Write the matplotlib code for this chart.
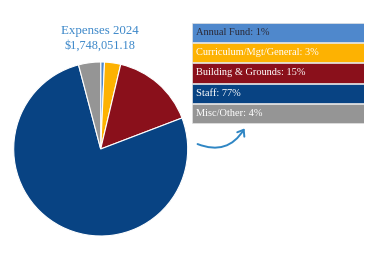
import matplotlib.pyplot as plt
from matplotlib.patches import FancyArrowPatch

# data
categories = ["Annual Fund", "Curriculum/Mgt/General", "Building & Grounds", "Staff", "Misc/Other"]
values = [0.7, 3.0, 15.5, 76.7, 4.1]
pct_labels = ["1%", "3%", "15%", "77%", "4%"]
colors = ["#4f88cc", "#fdb202", "#8a101b", "#084383", "#959595"]
text_colors = ["#2b2b3a", "white", "white", "white", "white"]
title = "Expenses 2024"
total = "$1,748,051.18"

W, H = 378, 260
fig = plt.figure(figsize=(W / 100, H / 100), dpi=100)
serif = ["Liberation Serif", "DejaVu Serif"]

def fx(px):
	return px / W

def fy(py):
	return 1 - py / H

# pie, centre ~ (101, 149) px, radius ~87 px
cx, cy, r = 100.7, 149.0, 87.0
ax = fig.add_axes([fx(cx - r), fy(cy + r), 2 * r / W, 2 * r / H])
ax.pie(values, colors=colors, startangle=90, counterclock=False,
	wedgeprops=dict(edgecolor="white", linewidth=0.8))
ax.set_xlim(-1, 1)
ax.set_ylim(-1, 1)
ax.set_aspect("auto")

fig.text(fx(100), fy(31), title, ha="center", va="center", fontsize=9.3,
	color="#3b87c9", family=serif)
fig.text(fx(100), fy(46), total, ha="center", va="center", fontsize=8.8,
	color="#3b87c9", family=serif)

# legend boxes
lx0, lx1, ly0, ly1 = 192, 364, 22.5, 123.5
lax = fig.add_axes([fx(lx0), fy(ly1), (lx1 - lx0) / W, (ly1 - ly0) / H])
rows = list(range(len(categories)))
lax.barh(rows, [1] * len(rows), left=0, height=0.95, color=colors,
	edgecolor="#e2e2e2", linewidth=0.5)
for i, (cat, p) in enumerate(zip(categories, pct_labels)):
	lax.text(0.025, i, "{}: {}".format(cat, p), ha="left", va="center",
		fontsize=7.5, color=text_colors[i], family=serif)
lax.set_xlim(0, 1)
lax.set_ylim(len(rows) - 0.5, -0.5)
lax.axis("off")

# curved arrow
arrow = FancyArrowPatch((fx(195), fy(143)), (fx(246), fy(126)),
	transform=fig.transFigure, connectionstyle="arc3,rad=0.45",
	arrowstyle="->,head_length=4,head_width=3", color="#2f86c4", lw=1.4)
fig.add_artist(arrow)

fig.savefig("out.png", dpi=100, facecolor="white")
